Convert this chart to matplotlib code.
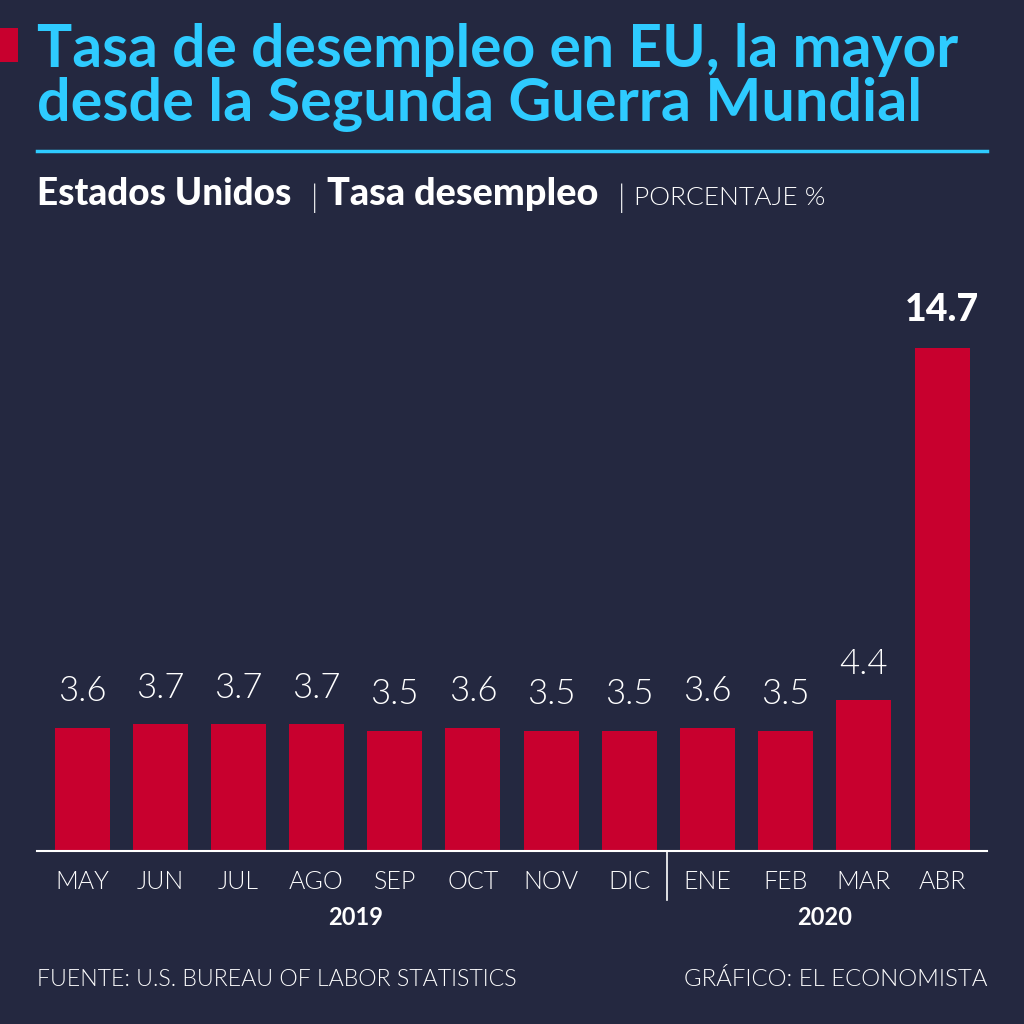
import matplotlib
matplotlib.use("Agg")
import matplotlib.pyplot as plt
from matplotlib.patches import Rectangle
from matplotlib.lines import Line2D

# ---- data ----
months = ["MAY", "JUN", "JUL", "AGO", "SEP", "OCT", "NOV", "DIC", "ENE", "FEB", "MAR", "ABR"]
rates = [3.6, 3.7, 3.7, 3.7, 3.5, 3.6, 3.5, 3.5, 3.6, 3.5, 4.4, 14.7]
years = ["2019", "2020"]
year_spans = [(0, 7), (8, 11)]

title_lines = ["Tasa de desempleo en EU, la mayor", "desde la Segunda Guerra Mundial"]
subtitle_parts = [("Estados Unidos", "bold", 37, 254), ("|", "light", 311, None),
                  ("Tasa desempleo", "bold", 327, 271), ("|", "light", 618, None),
                  ("PORCENTAJE %", "light", 634, 191)]
source = "FUENTE: U.S. BUREAU OF LABOR STATISTICS"
credit = "GRÁFICO: EL ECONOMISTA"

BG = "#242840"
RED = "#C8002E"
CYAN = "#2ECBFF"
WHITE = "#FFFFFF"
FONT = "Lato"

W = H = 1024
fig = plt.figure(figsize=(10.24, 10.24), dpi=100, facecolor=BG)
renderer = fig.canvas.get_renderer()


def fy(ypx):
    return 1 - ypx / H


def fx(xpx):
    return xpx / W


def put(x, y, s, size, weight, color=WHITE, ha="left", va="baseline", fit=None):
    t = fig.text(fx(x), fy(y), s, fontsize=size, fontweight=weight, color=color,
                 ha=ha, va=va, family=[FONT, "DejaVu Sans"])
    if fit is not None:
        w = t.get_window_extent(renderer).width
        t.set_fontsize(size * fit / w)
    return t


# red marker
fig.patches.append(Rectangle((0, fy(62)), fx(18), (62 - 28) / H, transform=fig.transFigure,
                             facecolor=RED, edgecolor="none"))
# title
put(37, 67, title_lines[0], 40, "bold", CYAN, fit=921)
put(37, 121, title_lines[1], 40, "bold", CYAN, fit=883)
# rule
fig.lines.append(Line2D([fx(37), fx(987)], [fy(151), fy(151)], transform=fig.transFigure,
                        color=CYAN, lw=2.5))
# subtitle
for txt, wt, x0, wd in subtitle_parts:
    if wt == "bold":
        put(x0, 205, txt, 22, 900, fit=wd)
    elif txt == "|":
        put(x0, 207, txt, 22, 300)
    else:
        put(x0, 205, txt, 20, 300, fit=wd)

# axes
ax = fig.add_axes([0, fy(851), 1, (851 - 300) / H])
ax.set_facecolor("none")
ppu = (851 - 348) / 14.7
ax.set_ylim(0, (851 - 300) / ppu)
xs = list(range(len(months)))
step = (942 - 82) / 11
ax.set_xlim(-82 / step, (W - 82) / step)
ax.bar(xs, rates, width=55 / step, color=RED)
for xi, v in zip(xs, rates):
    bold = v == max(rates)
    ax.annotate(f"{v:.1f}", (xi, v), xytext=(0, 15), textcoords="offset points",
                ha="center", va="bottom", color=WHITE,
                fontsize=27 if bold else 25, fontweight=900 if bold else 300,
                family=[FONT, "DejaVu Sans"])
ax.axis("off")
ax.plot([(37 - 82) / step, (987 - 82) / step], [0, 0], color=WHITE, lw=1.5, clip_on=False)

# month labels
for i, m in enumerate(months):
    put(82 + step * i, 889, m, 18, 300, ha="center")
# separator
fig.lines.append(Line2D([fx(667), fx(667)], [fy(851), fy(900)], transform=fig.transFigure,
                        color=WHITE, lw=1.2))
# years
for y, (a, b) in zip(years, year_spans):
    put(82 + step * (a + b) / 2, 925, y, 17, "bold", ha="center")

# footer
put(37, 986, source, 17, 300, fit=480)
put(987, 986, credit, 17, 300, ha="right", fit=304)

fig.savefig("out.png", dpi=100, facecolor=BG)
